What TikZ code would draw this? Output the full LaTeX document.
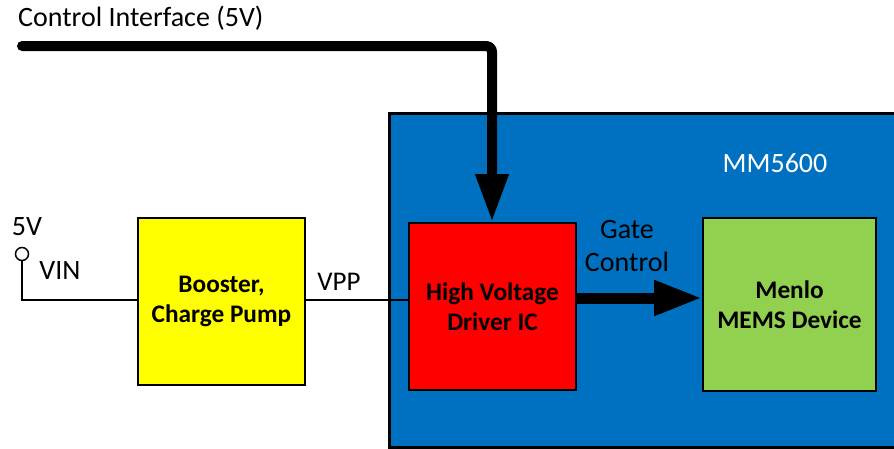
\documentclass[tikz,border=0pt]{standalone}
\usepackage{fontspec}
\setmainfont{Carlito}
\usetikzlibrary{arrows.meta,positioning}
\definecolor{mmblue}{HTML}{0070C0}
\definecolor{boostyellow}{HTML}{FFFF00}
\definecolor{drvred}{HTML}{FF0000}
\definecolor{memsgreen}{HTML}{92D050}
\tikzset{
  blk/.style={draw=black, line width=2pt, anchor=north west, inner sep=0pt, align=center, font=\fontsize{25.3}{30}\selectfont\bfseries},
  lbl/.style={inner sep=0pt, font=\fontsize{28}{33}\selectfont},
  wire/.style={draw=black, line width=1.5pt},
  bigarrow/.style={draw=black, line width=10pt, -{Triangle[width=31pt,length=48pt]}},
}
\begin{document}
\begin{tikzpicture}[x=1pt,y=-1pt]
\useasboundingbox (0,0) rectangle (894,448);
\clip (0,0) rectangle (894,448);
% MM5600 enclosure
\node[draw=black, line width=3pt, fill=mmblue, anchor=north west, minimum width=530pt, minimum height=334pt, inner sep=0pt] (mm) at (388,112) {};
\node[lbl, text=white, anchor=center] (mmlbl) at (775,163) {MM5600};
% blocks
\node[blk, fill=boostyellow, minimum width=167pt, minimum height=167pt] (boost) at (137,217) {Booster,\\Charge Pump};
\node[blk, fill=drvred, minimum width=167pt, minimum height=167pt] (drv) at (408,222) {High Voltage\\Driver IC};
\node[blk, fill=memsgreen, minimum width=173pt, minimum height=173pt] (mems) at (702,217) {Menlo\\MEMS Device};
% input terminal
\node[draw=black, line width=1.5pt, circle, minimum size=13pt, inner sep=0pt] (term) at (22,254) {};
\coordinate (corner) at (22,300);
\draw[wire] (term.south) -- (corner) -- (corner -| boost.west);
\node[lbl, anchor=center] (v5) at (27,227) {5V};
\node[lbl, anchor=center] (vin) at (60,271) {VIN};
% VPP
\draw[wire] (boost.east |- 0,300) -- (drv.west |- 0,300);
\node[lbl, font=\fontsize{27}{33}\selectfont, anchor=center] (vpp) at (339,282) {VPP};
% control interface
\node[lbl, anchor=west] (ctl) at (18,18) {Control Interface (5V)};
\coordinate (cstart) at (22,46);
\coordinate (cturn) at (492,46);
\draw[bigarrow, line cap=round, rounded corners=6pt] (cstart) -- (cturn) -- (drv.north -| cturn);
% gate control
\draw[bigarrow, line width=11pt, -{Triangle[width=33pt,length=48pt]}] (drv.east |- 0,298) -- (mems.west |- 0,298);
\node[lbl, anchor=center, align=center] (gate) at (627,246) {Gate\\Control};
\end{tikzpicture}
\end{document}
